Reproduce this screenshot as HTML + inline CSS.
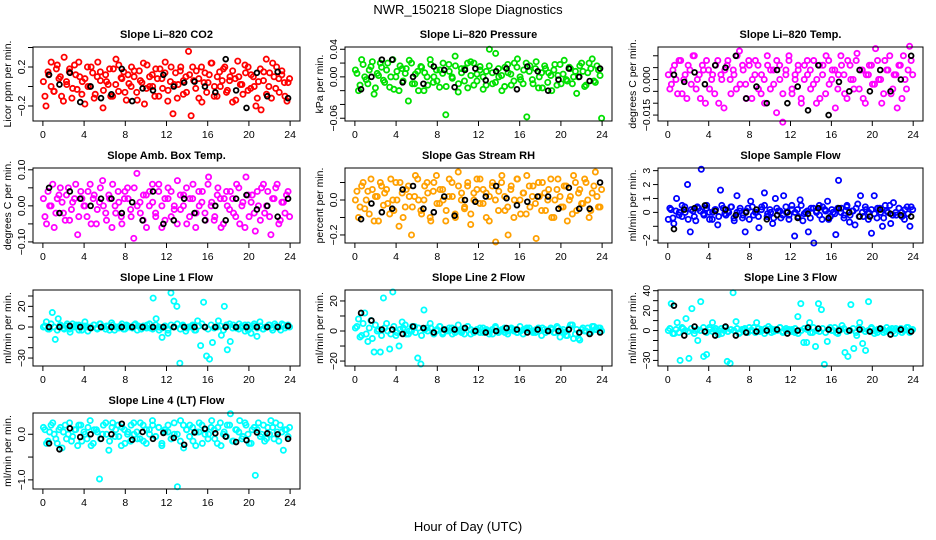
<!DOCTYPE html>
<html><head><meta charset="utf-8"><style>
body{margin:0;background:#fff}
svg{display:block;font-family:"Liberation Sans",sans-serif}
</style></head><body>
<svg id="chart" width="936" height="540" viewBox="0 0 936 540" xmlns="http://www.w3.org/2000/svg">
<rect x="0" y="0" width="936" height="540" fill="#fff"/>
<text x="468" y="14" font-size="13" text-anchor="middle">NWR_150218  Slope Diagnostics</text>
<text x="468" y="531" font-size="13" text-anchor="middle">Hour of Day (UTC)</text>
</svg>
<script>
const xTicks=[0,4,8,12,16,20,24];
const co2Vals=[0.05,-0.2,0.12,0.25,-0.05,0.18,0.08,-0.1,0.3,0.02,0.15,-0.12,0.22,-0.03,0.1,0.05,-0.18,0.2,0.0,0.14,-0.08,0.25,0.06,-0.22,0.12,0.02,-0.1,0.18,0.28,-0.05,0.09,0.15,-0.14,0.03,0.2,0.1,-0.06,0.16,0.04,-0.18,0.22,0.0,0.12,-0.1,0.08,0.18,-0.02,0.25,-0.15,0.05,-0.28,0.14,0.02,0.2,-0.08,0.1,0.36,-0.3,0.06,0.16,-0.12,0.2,0.04,-0.06,0.12,0.24,0.0,-0.1,0.15,0.06,0.2,-0.04,0.1,-0.16,0.08,0.26,0.02,-0.08,0.14,0.2,-0.02,0.1,-0.2,0.05,-0.24,0.15,0.28,0.0,-0.12,0.1,0.2,-0.06,0.12,0.04,-0.15,0.08];
const co2Vals2=[-0.1,0.15,0.0,-0.05,0.22,0.1,-0.15,0.05,0.18,-0.02,0.12,0.25,-0.08,0.08,0.0,0.2,-0.12,0.1,0.15,-0.04,0.05,0.18,-0.1,0.02,0.22,0.08,-0.06,0.12,0.0,0.16,-0.14,0.06,0.24,-0.02,0.1,0.0,0.18,-0.1,0.08,0.14,-0.04,0.2,0.02,-0.12,0.16,0.06,-0.06,0.12,0.2,-0.02,0.08,-0.16,0.14,0.04,0.24,-0.1,0.1,0.0,0.18,-0.06,0.06,0.16,-0.14,0.1,0.02,0.22,-0.04,0.12,0.0,-0.12,0.18,0.06,-0.08,0.14,0.24,-0.02,0.08,0.16,-0.1,0.04];
const co2Black=[0.12,0.02,0.14,-0.16,0.0,-0.12,-0.08,0.18,-0.15,-0.02,-0.04,0.12,0.0,0.04,0.05,0.0,-0.06,0.28,-0.04,-0.22,0.14,-0.1,0.15,-0.12];
const presVals=[0.01,-0.02,0.025,0.0,-0.01,0.015,-0.025,0.005,0.02,-0.005,0.01,-0.015,0.025,0.0,-0.02,0.012,0.005,-0.035,0.02,-0.01,0.008,0.015,-0.02,0.0,0.025,-0.008,0.01,-0.015,0.005,-0.055,0.018,0.0,0.03,-0.022,0.012,-0.006,0.02,0.022,-0.012,0.004,0.015,-0.018,0.008,0.04,-0.01,0.034,0.0,-0.02,0.014,0.006,-0.012,0.02,0.026,-0.004,0.01,-0.058,0.016,-0.01,0.022,0.0,-0.016,0.012,0.006,-0.02,0.018,0.002,-0.01,0.024,-0.006,0.012,0.0,-0.024,0.016,0.008,-0.012,0.02,0.026,-0.008,0.01,-0.06];
const presVals2=[0.005,-0.012,0.018,-0.004,0.01,0.022,-0.016,0.002,0.014,-0.008,0.02,0.0,-0.018,0.008,0.016,-0.006,0.012,0.024,-0.01,0.004,-0.02,0.014,0.006,-0.012,0.018,0.0,-0.006,0.01,0.02,-0.014,0.008,-0.002,0.016,-0.01,0.006,0.012,-0.016,0.002,0.02,-0.006,0.01,0.0,-0.012,0.016,0.006,-0.008,0.012,0.002,-0.014,0.018,0.004,-0.006,0.014,0.0,-0.01,0.02,0.008,-0.004,0.012,-0.016,0.006,0.016,-0.008,0.002,0.01,-0.012,0.018,0.004,-0.004,0.014,-0.01,0.008,0.0,0.02,-0.014,0.006,0.012,-0.006,0.016,0.002];
const presBlack=[-0.018,0.0,0.025,0.025,-0.008,0.0,-0.01,0.015,0.01,-0.015,0.01,0.012,-0.005,0.008,0.012,-0.018,0.015,0.008,-0.02,-0.004,0.012,0.0,-0.006,0.012];
const tempVals=[0.002,-0.002,0.006,-0.006,0.008,0.0,-0.008,0.004,0.01,-0.004,0.002,0.006,-0.01,0.004,0.0,-0.006,0.008,0.002,-0.012,0.006,0.0,0.004,-0.004,0.012,0.006,-0.002,0.008,-0.008,0.002,0.006,-0.006,0.0,0.01,-0.004,0.004,-0.014,0.006,-0.018,0.002,0.008,-0.006,0.0,0.004,-0.01,0.006,0.002,-0.004,0.008,0.0,-0.008,0.006,0.01,-0.002,0.004,-0.012,0.002,0.006,-0.006,0.008,0.0,-0.004,0.011,0.004,-0.008,0.002,0.006,-0.002,0.013,0.0,-0.01,0.008,0.004,-0.006,0.002,-0.012,0.006,0.01,-0.004,0.014,0.002];
const tempVals2=[-0.004,0.004,0.0,0.008,-0.006,0.002,0.006,-0.002,0.01,0.0,-0.008,0.004,0.008,-0.004,0.002,0.006,-0.01,0.0,0.004,0.008,-0.006,0.002,0.01,-0.002,0.004,-0.008,0.006,0.0,0.008,-0.004,0.002,-0.01,0.006,0.004,-0.002,0.008,0.0,-0.006,0.004,0.01,-0.004,0.002,0.006,-0.008,0.0,0.008,0.004,-0.002,-0.01,0.006,0.002,-0.006,0.008,0.0,0.004,-0.004,0.01,0.002,-0.008,0.006,0.0,0.008,-0.004,0.004,-0.01,0.002,0.006,-0.002,0.008,0.0,-0.006,0.004,0.01,-0.004,0.002,0.006,-0.008,0.0,0.004,0.008];
const tempBlack=[0.002,-0.001,0.003,-0.002,0.006,0.005,0.01,-0.008,-0.003,-0.01,0.004,-0.01,-0.003,-0.013,0.006,-0.015,-0.001,-0.005,0.004,-0.005,0.004,-0.005,0.0,0.01];
const ambVals=[0.02,-0.05,0.0,0.06,-0.02,0.03,0.01,-0.04,0.05,-0.01,0.02,-0.08,0.04,0.0,-0.03,0.06,0.02,-0.05,0.01,0.07,-0.02,0.03,-0.06,0.0,0.04,-0.03,0.02,0.05,-0.01,-0.09,0.09,0.01,-0.04,0.03,0.0,0.06,-0.02,0.04,-0.06,0.02,0.05,-0.03,0.0,0.07,-0.01,0.03,-0.05,0.02,0.06,-0.02,0.0,0.04,-0.04,0.08,0.01,-0.03,0.05,-0.06,0.02,0.0,0.04,-0.02,0.06,-0.05,0.01,0.08,-0.03,0.03,-0.07,0.0,0.05,-0.02,0.04,-0.08,0.02,0.06,-0.04,0.01,0.03,-0.03];
const ambVals2=[-0.03,0.04,0.0,-0.06,0.02,0.05,-0.02,0.03,-0.04,0.01,0.06,-0.03,0.02,0.0,0.04,-0.05,0.03,-0.01,0.05,0.0,-0.04,0.02,0.06,-0.02,0.01,-0.05,0.04,0.02,-0.03,0.05,0.0,-0.02,0.03,-0.06,0.04,0.01,-0.03,0.06,0.0,-0.04,0.02,0.04,-0.01,-0.05,0.03,0.0,0.05,-0.03,0.02,-0.06,0.04,0.01,-0.02,0.06,0.0,-0.04,0.03,0.02,-0.05,0.04,-0.01,0.02,-0.03,0.05,0.0,-0.06,0.03,0.01,-0.02,0.04,-0.04,0.06,0.0,-0.03,0.02,0.05,-0.05,0.01,-0.02,0.04];
const ambBlack=[0.05,-0.02,0.04,0.02,0.0,0.02,0.02,-0.02,0.01,-0.04,0.04,-0.05,-0.04,0.02,-0.02,-0.04,0.0,-0.04,0.02,0.03,-0.01,0.0,-0.03,0.02];
const rhVals=[0.0,-0.1,0.08,-0.05,0.05,0.12,-0.12,0.02,0.1,-0.03,0.06,-0.08,0.0,0.1,-0.15,0.04,-0.04,0.08,-0.2,0.02,0.12,-0.06,0.0,0.1,-0.1,0.05,0.14,-0.02,0.06,-0.12,0.02,0.1,-0.08,0.16,0.0,-0.05,0.08,-0.14,0.04,0.12,-0.02,0.06,-0.1,0.02,0.1,-0.24,0.05,0.14,-0.06,-0.2,0.08,0.0,0.12,-0.08,0.04,0.14,-0.04,0.08,-0.22,0.02,0.1,-0.06,0.06,-0.1,0.0,0.12,-0.04,0.08,-0.12,0.02,0.14,-0.06,0.06,-0.02,0.1,-0.1,0.04,0.16,-0.04,0.06];
const rhVals2=[0.05,-0.04,0.1,0.0,-0.08,0.06,0.02,-0.12,0.08,0.04,-0.02,0.12,-0.06,0.0,0.1,-0.1,0.06,0.02,-0.04,0.14,0.0,-0.08,0.08,0.04,-0.12,0.1,-0.02,0.06,0.0,-0.06,0.12,0.02,-0.1,0.08,0.04,-0.04,0.1,-0.08,0.0,0.06,0.12,-0.02,0.04,-0.12,0.08,0.0,-0.06,0.1,0.02,-0.04,0.06,-0.1,0.12,0.0,0.04,-0.08,0.08,0.02,-0.02,0.1,-0.06,0.04,0.0,0.12,-0.1,0.06,0.02,-0.04,0.08,0.0,-0.08,0.1,0.04,-0.02,0.12,0.0,-0.06,0.08,0.02,-0.04];
const rhBlack=[-0.11,-0.02,-0.07,-0.05,0.06,0.08,-0.05,-0.07,0.02,-0.09,0.0,-0.01,0.02,0.08,0.01,-0.03,-0.01,0.02,0.02,-0.05,0.07,-0.05,-0.05,0.1];
const sampleVals=[-0.5,0.2,-0.8,1.0,0.0,-0.3,0.4,2.0,-1.4,0.1,-0.6,0.3,3.1,-0.2,0.5,0.0,-0.5,0.2,-0.9,1.6,0.3,-0.2,0.0,0.4,-0.6,1.2,0.1,-0.4,-1.4,0.3,0.8,-0.2,0.0,-1.1,0.4,1.4,-0.3,0.2,-0.8,1.0,0.1,-0.4,1.2,0.0,-0.2,0.5,-1.7,0.2,0.9,-0.6,0.0,-1.4,0.3,-2.2,0.1,0.5,-0.5,0.2,0.8,-0.3,0.0,-1.6,2.3,0.3,-0.2,0.4,-0.7,0.1,-0.9,0.6,1.2,-0.3,0.2,0.0,-1.5,1.2,-0.4,0.3,-1.0,0.5,0.0,-0.8,0.7,-0.2,0.3,0.0,-0.5,0.4,-1.0,0.2];
const sampleVals2=[0.3,-0.4,0.1,-0.2,0.5,0.0,-0.5,0.2,-0.3,0.4,0.1,-0.1,0.3,-0.5,0.0,0.2,-0.3,0.5,-0.1,0.1,0.4,-0.4,0.0,0.3,-0.2,0.1,-0.5,0.4,0.0,-0.3,0.2,0.5,-0.1,0.0,-0.4,0.3,0.1,-0.2,0.4,-0.5,0.2,0.0,-0.3,0.5,-0.1,0.1,-0.4,0.3,0.0,-0.2,0.4,0.1,-0.5,0.2,-0.1,0.3,0.0,-0.4,0.5,-0.2,0.1,0.3,-0.3,0.0,0.4,-0.5,0.2,-0.1,0.3,0.0,-0.4,0.1,0.5,-0.2,0.0,0.3,-0.3,0.2,-0.1,0.4];
const sampleBlack=[-1.2,0.2,0.3,0.5,0.1,0.2,-0.2,0.0,0.2,-0.5,-0.2,0.0,-0.4,-0.1,0.3,-0.4,0.3,0.0,-0.3,-0.3,0.2,-0.1,-0.2,-0.3];
const line1Vals=[0,5,-2,14,-12,8,1,-2,3,-5,0,2,-3,1,5,-4,0,2,-1,3,0,-2,1,4,-3,0,1,-2,2,0,-1,3,1,-2,0,2,-1,28,8,-3,-10,1,-6,33,25,20,-35,2,-4,0,1,-3,6,-18,24,-28,-31,-15,0,6,-8,20,-22,-14,2,-1,3,0,-4,2,-6,1,-9,5,-2,0,2,-1,3,0,-3,2,1,0];
const line1Vals2=[1,-2,3,0,-3,2,-1,1,-2,3,0,2,-3,1,0,-1,2,-2,3,0,1,-3,2,0,-1,3,-2,1,0,2,-3,0,1,-1,3,-2,2,0,-1,1,-3,2,0,3,-2,1,-1,0,2,-3,1,3,0,-2,2,-1,0,1,-3,2,3,-1,0,-2,1,2,-3,0,3,-1,1,-2,0,2,-3,1,0,3,-1,2];
const line1Black=[0,0,1,0,-1,0,0,0,0,0,0,0,0,0,0,0,0,0,0,0,0,0,0,1];
const line2Vals=[2,8,-3,12,-7,7,-14,0,-14,22,5,-12,26,-3,-10,6,4,-2,0,3,-18,-22,14,2,5,-1,0,3,-2,1,0,2,-1,4,0,-2,3,1,-1,0,2,-1,1,0,-2,2,0,1,-1,0,2,1,-1,0,1,2,0,-1,1,0,2,-1,0,1,-1,2,0,-1,-3,4,-5,1,-6,2,0,-1,3,1,2,0];
const line2Vals2=[3,-4,5,-2,2,-5,4,1,-3,2,0,-2,3,-1,1,2,-2,0,3,-1,2,-3,1,0,2,-2,1,3,-1,0,2,-2,1,0,-1,2,3,-2,0,1,-1,2,0,-2,1,3,-1,0,2,-2,1,0,-1,3,-2,1,2,0,-1,2,-3,1,0,2,-1,3,-4,1,-3,2,4,-2,-5,1,0,2,-1,3,1,2];
const line2Black=[12,7,1,1,-2,3,2,-1,1,1,2,0,-1,0,2,1,-1,1,0,0,1,-1,-2,-1];
const line3Vals=[0,27,-3,8,-30,2,12,-28,22,0,-10,29,-26,-24,3,8,0,-4,2,0,-31,-33,38,9,-3,1,2,-2,0,3,8,-1,0,2,4,-2,1,0,3,-1,2,0,1,-2,14,27,-12,-12,8,-2,-16,27,21,-34,-11,3,0,-2,1,5,-22,-26,26,-18,-5,8,-13,-20,29,3,0,-2,2,1,-1,0,2,-3,1,2,0,3,-2,1];
const line3Vals2=[2,-3,1,-2,3,0,-1,2,-3,1,0,3,-2,1,-1,2,0,-3,3,-1,1,0,2,-2,1,-1,3,0,-2,2,1,-3,0,2,-1,1,3,-2,0,1,-1,2,-3,0,2,1,-2,3,0,-1,2,-2,1,0,3,-3,1,2,-1,0,2,-2,3,1,-1,0,2,-3,1,0,-2,3,1,-1,2,0,-2,1,3,0];
const line3Black=[25,-5,4,-1,-5,4,-5,-2,-1,0,1,-3,0,3,2,1,0,0,1,-1,2,-4,1,-1];
const line4Vals=[0.15,-0.2,0.05,0.25,-0.1,0.1,-0.3,0.2,0.0,-0.15,0.1,-0.25,0.2,0.05,-0.1,0.3,-0.2,0.1,-0.98,0.0,0.25,-0.35,0.15,-0.05,0.2,-0.25,0.1,0.0,-0.15,0.25,0.05,-0.1,0.2,-0.2,0.1,0.3,-0.05,0.15,-0.25,0.05,0.2,-0.1,0.0,-1.15,0.3,-0.3,0.1,0.2,-0.15,0.05,0.25,-0.2,0.1,0.0,0.3,-0.1,0.15,-0.25,0.05,0.2,0.45,-0.15,0.1,0.3,-0.05,0.2,-0.2,0.1,-0.9,0.25,0.0,-0.15,0.15,0.3,-0.1,0.05,0.2,-0.35,0.1,0.15];
const line4Vals2=[0.1,-0.15,0.2,0.0,-0.2,0.15,0.05,-0.1,0.25,-0.05,0.1,0.2,-0.15,0.0,0.15,-0.25,0.1,0.05,-0.1,0.2,0.0,-0.15,0.25,0.1,-0.05,0.15,-0.2,0.05,0.2,0.0,-0.1,0.25,-0.15,0.1,0.0,0.2,-0.05,0.15,-0.2,0.1,0.05,-0.1,0.25,0.0,-0.15,0.2,0.1,-0.05,0.15,-0.25,0.05,0.2,0.0,-0.1,0.15,0.1,-0.2,0.25,0.0,-0.05,0.2,-0.15,0.1,0.05,-0.1,0.25,0.0,-0.2,0.15,0.1,-0.05,0.2,-0.1,0.0,0.15,0.25,-0.15,0.05,0.1,-0.05];
const line4Black=[-0.2,-0.33,0.13,-0.06,0.0,-0.1,0.0,0.23,-0.12,0.05,-0.1,0.03,-0.08,-0.23,0.04,0.12,0.02,-0.05,-0.17,-0.13,0.04,0.02,0.0,-0.1];

const cols=[[33,300],[345,612],[658,923]];
const rows=[[47,121],[168,243],[290,366],[413,489]];
const panels=[
 {name:'co2',title:'Slope Li\u2013820 CO2',yl:'Licor ppm per min.',c:0,r:0,ymin:-0.354,ymax:0.405,ticks:[-0.2,0,0.2,0.4],labels:{'-0.2':'\u22120.2','0.2':'0.2'},col:'#ff0000',v:co2Vals,v2:co2Vals2,b:co2Black},
 {name:'pressure',title:'Slope Li\u2013820 Pressure',yl:'kPa per min.',c:1,r:0,ymin:-0.064,ymax:0.0433,ticks:[-0.06,-0.04,-0.02,0,0.02,0.04],labels:{'-0.06':'\u22120.06','0':'0.00','0.04':'0.04'},col:'#00e000',v:presVals,v2:presVals2,b:presBlack},
 {name:'licor-temp',title:'Slope Li\u2013820 Temp.',yl:'degrees C per min.',c:2,r:0,ymin:-0.0175,ymax:0.0137,ticks:[-0.015,-0.01,-0.005,0,0.005,0.01],labels:{'-0.015':'\u22120.015','0':'0.000'},col:'#ff00ff',v:tempVals,v2:tempVals2,b:tempBlack},
 {name:'amb-box-temp',title:'Slope Amb. Box Temp.',yl:'degrees C per min.',c:0,r:1,ymin:-0.103,ymax:0.105,ticks:[-0.1,-0.05,0,0.05,0.1],labels:{'-0.1':'\u22120.10','0':'0.00','0.1':'0.10'},col:'#ff00ff',v:ambVals,v2:ambVals2,b:ambBlack},
 {name:'gas-stream-rh',title:'Slope Gas Stream RH',yl:'percent per min.',c:1,r:1,ymin:-0.246,ymax:0.183,ticks:[-0.2,-0.1,0,0.1],labels:{'-0.2':'\u22120.2','0':'0.0'},col:'#ffa000',v:rhVals,v2:rhVals2,b:rhBlack},
 {name:'sample-flow',title:'Slope Sample Flow',yl:'ml/min per min.',c:2,r:1,ymin:-2.2,ymax:3.19,ticks:[-2,-1,0,1,2,3],labels:{'-2':'\u22122','0':'0','1':'1','2':'2','3':'3'},col:'#0000ff',v:sampleVals,v2:sampleVals2,b:sampleBlack},
 {name:'line1-flow',title:'Slope Line 1 Flow',yl:'ml/min per min.',c:0,r:2,ymin:-37.7,ymax:35.8,ticks:[-30,-20,-10,0,10,20,30],labels:{'-30':'\u221230','0':'0','20':'20'},col:'#00ffff',v:line1Vals,v2:line1Vals2,b:line1Black},
 {name:'line2-flow',title:'Slope Line 2 Flow',yl:'ml/min per min.',c:1,r:2,ymin:-23.3,ymax:27.3,ticks:[-20,-10,0,10,20],labels:{'-20':'\u221220','0':'0','20':'20'},col:'#00ffff',v:line2Vals,v2:line2Vals2,b:line2Black},
 {name:'line3-flow',title:'Slope Line 3 Flow',yl:'ml/min per min.',c:2,r:2,ymin:-35.6,ymax:40.7,ticks:[-30,-20,-10,0,10,20,30,40],labels:{'-30':'\u221230','0':'0','20':'20','40':'40'},col:'#00ffff',v:line3Vals,v2:line3Vals2,b:line3Black},
 {name:'line4-flow',title:'Slope Line 4 (LT) Flow',yl:'ml/min per min.',c:0,r:3,ymin:-1.2,ymax:0.466,ticks:[-1,-0.5,0],labels:{'-1':'\u22121.0','0':'0.0'},col:'#00ffff',v:line4Vals,v2:line4Vals2,b:line4Black}
];
const NS='http://www.w3.org/2000/svg';
const svg=document.getElementById('chart');
function mk(tag,attrs,parent){const e=document.createElementNS(NS,tag);for(const k in attrs)e.setAttribute(k,attrs[k]);parent.appendChild(e);return e;}
panels.forEach(p=>{
 const [L,R]=cols[p.c],[T,B]=rows[p.r];
 const g=mk('g',{},svg);
 
 
 const xs=h=>L+(h+0.96)/25.92*(R-L);
 const ys=v=>B-(v-p.ymin)/(p.ymax-p.ymin)*(B-T);
 const t=mk('text',{x:(L+R)/2,y:T-9,'font-size':11,'font-weight':'bold','text-anchor':'middle'},g);t.textContent=p.title;
 
 
 const ylab=mk('text',{x:0,y:0,'font-size':10.5,'text-anchor':'middle',transform:`translate(${L-22},${(T+B)/2}) rotate(-90)`},g);ylab.textContent=p.yl;
 
 
 const n=p.v.length;
 p.v.forEach((v,i)=>{
  const h=0.05+i*(23.9/(n-1));
  const c=mk('circle',{cx:xs(h),cy:ys(v),r:2.6,fill:'none',stroke:p.col,'stroke-width':1.8},g);
  
  
 });
 const n2=p.v2.length;
 p.v2.forEach((v,i)=>{
  const h=0.2+i*(23.6/(n2-1));
  const c=mk('circle',{cx:xs(h),cy:ys(v),r:2.6,fill:'none',stroke:p.col,'stroke-width':1.8},g);
  
  
 });
 p.b.forEach((v,i)=>{
  const h=0.6+i*(23.2/23);
  const c=mk('circle',{cx:xs(h),cy:ys(v),r:2.4,fill:'none',stroke:'#000','stroke-width':1.8},g);
  
  
 });
 const box=mk('rect',{x:L,y:T,width:R-L,height:B-T,fill:'none',stroke:'#000','stroke-width':1},g);
 
 
 xTicks.forEach(h=>{
  const x=xs(h);
  mk('line',{x1:x,x2:x,y1:B,y2:B+5,stroke:'#000'},g);
  const tl=mk('text',{x:x,y:B+17,'font-size':10.5,'text-anchor':'middle'},g);tl.textContent=h;
  
  
 });
 p.ticks.forEach(v=>{
  const y=ys(v);
  mk('line',{x1:L-5,x2:L,y1:y,y2:y,stroke:'#000'},g);
  const lab=p.labels[String(v)];
  if(lab){
   const tl=mk('text',{x:0,y:0,'font-size':10.5,'text-anchor':'middle',transform:`translate(${L-8},${y}) rotate(-90)`},g);tl.textContent=lab;
   
   
  }
 });
});
</script>
</body></html>
